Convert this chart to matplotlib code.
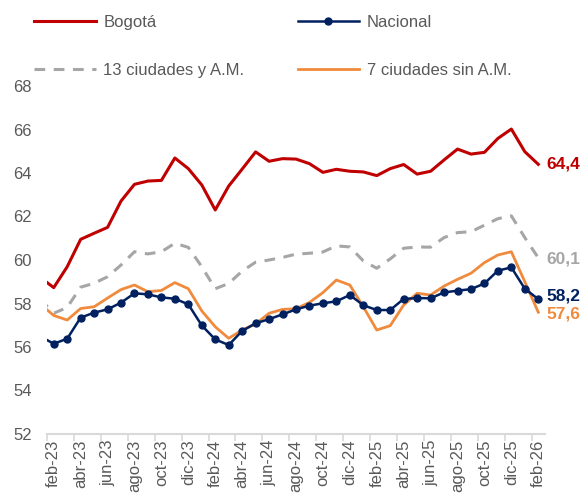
import numpy as np
import matplotlib
matplotlib.use("Agg")
from matplotlib import pyplot as plt

plt.rcParams['font.family'] = ['Liberation Sans', 'DejaVu Sans']

# %%
#---DATA---#
# monthly, ene-23 .. feb-26 (ene-23 only shows as the stub at the left edge)
meses = ['ene', 'feb', 'mar', 'abr', 'may', 'jun', 'jul', 'ago', 'sep', 'oct', 'nov', 'dic']
periodos = [f'{meses[m % 12]}-{23 + m // 12}' for m in range(0, 38)]

bogota = [59.2, 58.73, 59.69, 60.95, 61.23, 61.5, 62.71, 63.48, 63.63, 63.66, 64.69, 64.2,
          63.45, 62.3, 63.4, 64.18, 64.97, 64.54, 64.66, 64.64, 64.43, 64.03, 64.17, 64.08,
          64.05, 63.88, 64.2, 64.39, 63.95, 64.08, 64.6, 65.1, 64.87, 64.95, 65.59, 66.02,
          64.98, 64.4]
nacional = [56.49, 56.15, 56.38, 57.35, 57.58, 57.73, 58.04, 58.47, 58.42, 58.28, 58.22, 57.96,
            56.99, 56.35, 56.09, 56.74, 57.09, 57.28, 57.5, 57.73, 57.9, 58.01, 58.1, 58.39,
            57.92, 57.7, 57.7, 58.21, 58.25, 58.24, 58.51, 58.59, 58.66, 58.92, 59.51, 59.66,
            58.68, 58.2]
trece = [58.2, 57.55, 57.82, 58.75, 58.93, 59.23, 59.77, 60.38, 60.28, 60.38, 60.77, 60.58,
         59.69, 58.68, 58.92, 59.49, 59.9, 60.0, 60.12, 60.27, 60.31, 60.37, 60.65, 60.6,
         59.96, 59.62, 60.05, 60.54, 60.6, 60.59, 61.03, 61.26, 61.3, 61.6, 61.9, 62.03,
         61.03, 60.1]
siete = [57.97, 57.45, 57.24, 57.77, 57.85, 58.25, 58.64, 58.85, 58.54, 58.6, 58.96, 58.68,
         57.66, 56.93, 56.4, 56.78, 57.06, 57.55, 57.73, 57.76, 58.05, 58.5, 59.08, 58.85,
         57.85, 56.78, 56.98, 57.93, 58.47, 58.39, 58.8, 59.11, 59.39, 59.88, 60.23, 60.38,
         59.0, 57.6]

# %%
#---PLOT---#
x = np.arange(len(periodos)) - 1  # feb-23 -> 0

fig = plt.figure(figsize=(5.84, 5.01), dpi=100)
ax = fig.add_axes([47 / 584, 67 / 501, 498 / 584, 348 / 501])

c_bog = '#C00000'
c_nac = '#002060'
c_13 = '#A6A6A6'
c_7 = '#F08A3C'

l_bog, = ax.plot(x, bogota, color=c_bog, lw=2.2, label='Bogotá')
l_13, = ax.plot(x, trece, color=c_13, lw=2.2, ls=(0, (3.5, 2.8)), label='13 ciudades y A.M.')
l_7, = ax.plot(x, siete, color=c_7, lw=2.0, label='7 ciudades sin A.M.')
l_nac, = ax.plot(x, nacional, color=c_nac, lw=1.8, marker='o', ms=5, label='Nacional')

ax.set_xlim(-0.5, 36.5)
ax.set_ylim(52, 68)
ax.set_yticks(np.arange(52, 69, 2))

lab_idx = np.arange(1, len(periodos), 2)
ax.set_xticks(x[lab_idx])
ax.set_xticklabels([periodos[i] for i in lab_idx], rotation=90)
ax.set_xticks(np.arange(-0.5, 36, 2), minor=True)
ax.tick_params(axis='x', which='major', length=0, pad=4, labelsize=12, labelcolor='#595959')
ax.tick_params(axis='x', which='minor', length=5, width=1.2, color='#D9D9D9')
ax.tick_params(axis='y', length=0, pad=11, labelsize=12, labelcolor='#595959')

for s in ['left', 'right', 'top']:
    ax.spines[s].set_visible(False)
ax.spines['bottom'].set_color('#D9D9D9')
ax.spines['bottom'].set_linewidth(1.5)

# end labels
for serie, col, dy in [(bogota, c_bog, 0), (trece, c_13, -1), (nacional, c_nac, 2), (siete, c_7, -1)]:
    ax.annotate(f'{serie[-1]:.1f}'.replace('.', ','), xy=(x[-1], serie[-1]),
                xytext=(6, dy), textcoords='offset points', va='center', ha='left',
                fontsize=12.5, fontweight='bold', color=col, annotation_clip=False)

fig.legend(handles=[l_bog, l_13, l_nac, l_7], ncol=2, frameon=False,
           loc='upper left', bbox_to_anchor=(34 / 584, 1 - 15 / 501),
           borderaxespad=0, borderpad=0, fontsize=12, labelcolor='#595959',
           handlelength=3.7, handletextpad=0.45, columnspacing=3.2, labelspacing=2.0)

fig.savefig('out.png', dpi=100)
